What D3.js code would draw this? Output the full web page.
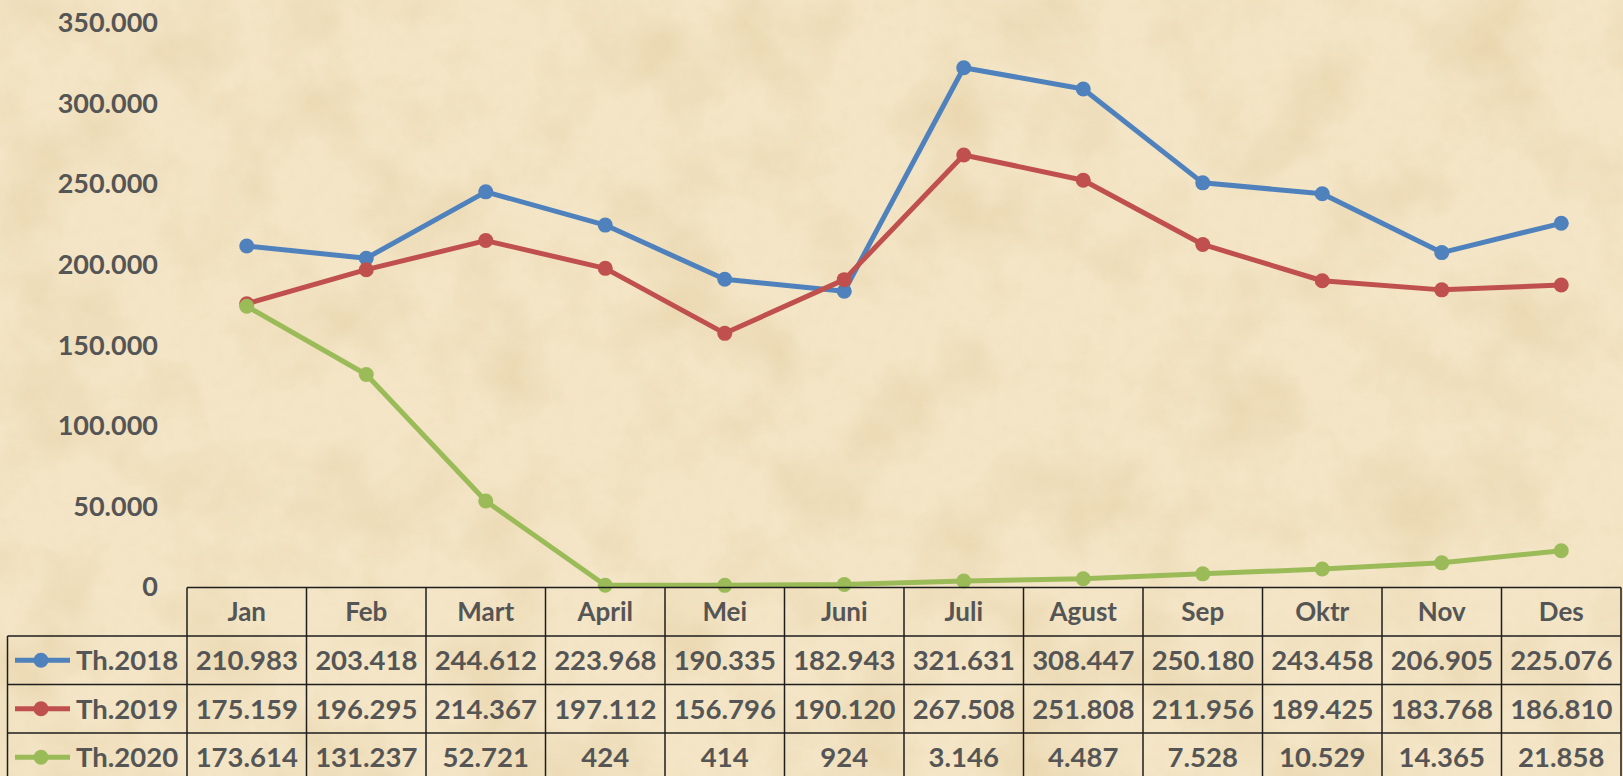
<!DOCTYPE html>
<html>
<head>
<meta charset="utf-8">
<script src="https://cdn.jsdelivr.net/npm/d3@7"></script>
<style>
  body { margin: 0; background: #f1e2c3; }
  svg { display: block; }
  text { font-family: Lato, "Open Sans", sans-serif; font-weight: bold; fill: #555555; }
</style>
</head>
<body>
<svg width="1623" height="776"></svg>
<script>
var months = ['Jan', 'Feb', 'Mart', 'April', 'Mei', 'Juni', 'Juli', 'Agust', 'Sep', 'Oktr', 'Nov', 'Des'];
var seriesNames = ['Th.2018', 'Th.2019', 'Th.2020'];
var th2018 = [210983, 203418, 244612, 223968, 190335, 182943, 321631, 308447, 250180, 243458, 206905, 225076];
var th2019 = [175159, 196295, 214367, 197112, 156796, 190120, 267508, 251808, 211956, 189425, 183768, 186810];
var th2020 = [173614, 131237, 52721, 424, 414, 924, 3146, 4487, 7528, 10529, 14365, 21858];
var yTicks = [0, 50000, 100000, 150000, 200000, 250000, 300000, 350000];
var colors = ['#4f81bd', '#c0504d', '#9bbb59'];

var series = [th2018, th2019, th2020];

var idLocale = d3.formatLocale({decimal: ',', thousands: '.', grouping: [3], currency: ['Rp', '']});
var fmt = idLocale.format(',d');

var svg = d3.select('svg');

// paper background
var defs = svg.append('defs');
var f = defs.append('filter').attr('id', 'paper').attr('x', 0).attr('y', 0).attr('width', '100%').attr('height', '100%');
f.append('feTurbulence').attr('type', 'fractalNoise').attr('baseFrequency', '0.011').attr('numOctaves', 5).attr('seed', 7);
f.append('feColorMatrix').attr('type', 'matrix')
  .attr('values', '0 0 0 0 0.78  0 0 0 0 0.62  0 0 0 0 0.36  2.2 0 0 0 -0.95');
var g2 = defs.append('filter').attr('id', 'grain').attr('x', 0).attr('y', 0).attr('width', '100%').attr('height', '100%');
g2.append('feTurbulence').attr('type', 'fractalNoise').attr('baseFrequency', '0.08').attr('numOctaves', 3).attr('seed', 2);
g2.append('feColorMatrix').attr('type', 'matrix')
  .attr('values', '0 0 0 0 0.85  0 0 0 0 0.72  0 0 0 0 0.48  1.6 0 0 0 -0.75');

svg.append('rect').attr('width', 1623).attr('height', 776).attr('fill', '#f3e5c6');
svg.append('rect').attr('width', 1623).attr('height', 776).attr('filter', 'url(#paper)').attr('opacity', 0.6);
svg.append('rect').attr('width', 1623).attr('height', 776).attr('filter', 'url(#grain)').attr('opacity', 0.4);

var tableLeft = 7.5, colLeft = 187, colRight = 1621;
var tableTop = 587.5, rowH = 48.5;

var x = d3.scaleBand().domain(months).range([colLeft, colRight]);
var y = d3.scaleLinear().domain([0, 350000]).range([586, 22]);

// y axis labels
var yAxis = d3.axisLeft(y).tickValues(yTicks).tickSize(0).tickPadding(0).tickFormat(fmt);
var yg = svg.append('g').attr('transform', 'translate(158,0)').call(yAxis);
yg.select('.domain').remove();
yg.selectAll('text').style('font-size', '27px').style('font-family', 'Lato, sans-serif').attr('fill', '#555555').attr('dy', '0.36em');

// lines
var line = d3.line()
  .x(function(d, i) { return x(months[i]) + x.bandwidth() / 2; })
  .y(function(d) { return y(d); });

var sGroup = svg.selectAll('.series')
  .data(series)
  .enter()
  .append('g')
  .attr('class', 'series');

sGroup.append('path')
  .attr('d', function(d) { return line(d); })
  .attr('fill', 'none')
  .attr('stroke', function(d, i) { return colors[i]; })
  .attr('stroke-width', 5)
  .attr('stroke-linejoin', 'round');

sGroup.each(function(d, si) {
  d3.select(this).selectAll('circle')
    .data(d)
    .enter()
    .append('circle')
    .attr('cx', function(v, i) { return x(months[i]) + x.bandwidth() / 2; })
    .attr('cy', function(v) { return y(v); })
    .attr('r', 7.5)
    .attr('fill', colors[si]);
});

// data table
var tbl = svg.append('g').attr('class', 'table');
var borderColor = '#1e1e1e';

// horizontal lines
tbl.append('line')
  .attr('x1', colLeft).attr('x2', colRight)
  .attr('y1', tableTop).attr('y2', tableTop)
  .attr('stroke', borderColor).attr('stroke-width', 1.5);
tbl.selectAll('.hline')
  .data([1, 2, 3, 4])
  .enter()
  .append('line')
  .attr('class', 'hline')
  .attr('x1', tableLeft).attr('x2', colRight)
  .attr('y1', function(d) { return tableTop + d * rowH; })
  .attr('y2', function(d) { return tableTop + d * rowH; })
  .attr('stroke', borderColor).attr('stroke-width', 1.5);

// vertical lines
var vx = months.map(function(m) { return x(m); }).concat([colRight]);
tbl.selectAll('.vline')
  .data(vx)
  .enter()
  .append('line')
  .attr('class', 'vline')
  .attr('x1', function(d) { return d; }).attr('x2', function(d) { return d; })
  .attr('y1', tableTop).attr('y2', tableTop + 4 * rowH)
  .attr('stroke', borderColor).attr('stroke-width', 1.5);
tbl.append('line')
  .attr('x1', tableLeft).attr('x2', tableLeft)
  .attr('y1', tableTop + rowH).attr('y2', tableTop + 4 * rowH)
  .attr('stroke', borderColor).attr('stroke-width', 1.5);

// header
tbl.selectAll('.head')
  .data(months)
  .enter()
  .append('text')
  .attr('class', 'head')
  .attr('x', function(d) { return x(d) + x.bandwidth() / 2; })
  .attr('y', tableTop + rowH / 2)
  .attr('dy', '0.36em')
  .attr('text-anchor', 'middle')
  .style('font-size', '26px')
  .text(function(d) { return d; });

// rows
var rows = tbl.selectAll('.row')
  .data(series)
  .enter()
  .append('g')
  .attr('class', 'row')
  .attr('transform', function(d, i) {
    return 'translate(0,' + (tableTop + (i + 1) * rowH + rowH / 2) + ')';
  });

rows.append('line')
  .attr('x1', 15).attr('x2', 70)
  .attr('y1', 0).attr('y2', 0)
  .attr('stroke', function(d, i) { return colors[i]; })
  .attr('stroke-width', 5);
rows.append('circle')
  .attr('cx', 41).attr('cy', 0).attr('r', 7.5)
  .attr('fill', function(d, i) { return colors[i]; });
rows.append('text')
  .attr('x', 76)
  .attr('dy', '0.36em')
  .style('font-size', '27.5px')
  .text(function(d, i) { return seriesNames[i]; });

rows.selectAll('.val')
  .data(function(d) { return d; })
  .enter()
  .append('text')
  .attr('class', 'val')
  .attr('x', function(v, i) { return x(months[i]) + x.bandwidth() / 2; })
  .attr('dy', '0.36em')
  .attr('text-anchor', 'middle')
  .style('font-size', '27.5px')
  .text(function(v) { return fmt(v); });
</script>
</body>
</html>
